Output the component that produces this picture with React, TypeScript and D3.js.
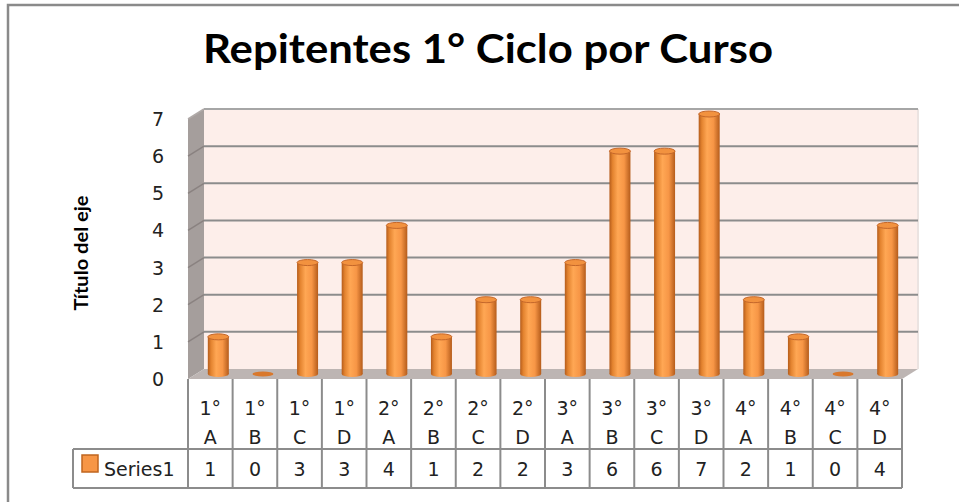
import React from 'react';
import * as d3 from 'd3';

const categories = ['1° A', '1° B', '1° C', '1° D', '2° A', '2° B', '2° C', '2° D', '3° A', '3° B', '3° C', '3° D', '4° A', '4° B', '4° C', '4° D'];
const values = [1, 0, 3, 3, 4, 1, 2, 2, 3, 6, 6, 7, 2, 1, 0, 4];
const yTicks = [0, 1, 2, 3, 4, 5, 6, 7];
const seriesName = 'Series1';
const title = 'Repitentes 1° Ciclo por Curso';
const axisTitle = 'Título del eje';

const width = 959;
const height = 502;

const App = () => {
  // 3d depth offset of the back wall
  const dx = 16;
  const dy = -10;

  const x = d3.scaleBand<string>()
    .domain(categories)
    .range([188, 902])
    .padding(0);

  const y = d3.scaleLinear()
    .domain([0, 7])
    .range([379, 119]);

  const bw = x.bandwidth();
  const rx = 10.5;
  const ry = 3;
  const tableMid = 449;
  const tableBottom = 488;
  const lineColor = '#8c8c8c';
  const font = '"DejaVu Sans", sans-serif';

  return (
    <svg width={width} height={height} style={{ position: 'absolute', left: 0, top: 0 }}>
      <defs>
        <linearGradient id="barGrad" x1="0" x2="1" y1="0" y2="0">
          <stop offset="0%" stopColor="#b55c1b" />
          <stop offset="15%" stopColor="#e3832f" />
          <stop offset="40%" stopColor="#ffa754" />
          <stop offset="70%" stopColor="#f79646" />
          <stop offset="100%" stopColor="#b55c1b" />
        </linearGradient>
      </defs>
      <rect x={0} y={0} width={width} height={height} fill="#fff" />
      {/* chart border */}
      <path d={`M8,${height} L8,5 L${width},5`} fill="none" stroke="#8a8a8a" strokeWidth={2.5} />

      <text x={488} y={63} textAnchor="middle" fontFamily="Lato, sans-serif" fontWeight="bold"
        fontSize={40} textLength={570} lengthAdjust="spacingAndGlyphs" fill="#000">{title}</text>

      {/* walls */}
      <polygon points={`188,${y(7)} ${188 + dx},${y(7) + dy} ${188 + dx},${y(0) + dy} 188,${y(0)}`} fill="#a59e9c" />
      <rect x={188 + dx} y={y(7) + dy} width={902 - 188} height={y(0) - y(7)} fill="#fdeeea" />
      <line x1={902 + dx} x2={902 + dx} y1={y(7) + dy} y2={y(0) + dy} stroke="#ebe3e1" strokeWidth={2} />
      <polygon points={`188,${y(0)} 902,${y(0)} ${902 + dx},${y(0) + dy} ${188 + dx},${y(0) + dy}`} fill="#bdb5b3" />

      {yTicks.filter(t => t > 0).map(t => (
        <g key={t}>
          <line x1={188 + dx} x2={902 + dx} y1={y(t) + dy} y2={y(t) + dy}
            stroke={t === 7 ? '#a6a6a6' : lineColor} strokeWidth={2} />
          <line x1={188} x2={188 + dx} y1={y(t)} y2={y(t) + dy} stroke={t === 7 ? '#b0aaa8' : '#8a8280'} strokeWidth={1.5} />
        </g>
      ))}

      {yTicks.map(t => (
        <text key={t} x={164} y={y(t)} textAnchor="end" dominantBaseline="central"
          fontFamily={font} fontSize={19} fill="#222">{t}</text>
      ))}

      <text transform={`translate(80, 253) rotate(-90)`} textAnchor="middle" dominantBaseline="central"
        fontFamily="Lato, sans-serif" fontWeight="bold" fontSize={19} textLength={115}
        lengthAdjust="spacingAndGlyphs" fill="#000">{axisTitle}</text>

      {/* bars */}
      {categories.map((c, i) => {
        const v = values[i];
        const cx = (x(c) as number) + bw / 2 + dx / 2;
        const base = y(0) + dy / 2;
        const top = y(v) + dy / 2;
        if (v === 0) {
          return <ellipse key={c} cx={cx} cy={base} rx={rx} ry={2.5} fill="#d9782c" />;
        }
        return (
          <g key={c}>
            <ellipse cx={cx} cy={base} rx={rx} ry={ry} fill="url(#barGrad)" />
            <rect x={cx - rx} y={top} width={rx * 2} height={base - top} fill="url(#barGrad)" />
            <ellipse cx={cx} cy={top} rx={rx} ry={ry} fill="#f2923f" stroke="#c4672a" strokeWidth={1} />
          </g>
        );
      })}

      {/* data table */}
      {categories.map(c => (
        <line key={c} x1={x(c)} x2={x(c)} y1={y(0)} y2={tableBottom} stroke={lineColor} strokeWidth={2} />
      ))}
      <line x1={902} x2={902} y1={y(0)} y2={tableBottom} stroke={lineColor} strokeWidth={2} />
      <line x1={73} x2={902} y1={tableMid} y2={tableMid} stroke={lineColor} strokeWidth={2} />
      <line x1={73} x2={902} y1={tableBottom} y2={tableBottom} stroke={lineColor} strokeWidth={2} />
      <line x1={73} x2={73} y1={tableMid} y2={tableBottom} stroke={lineColor} strokeWidth={2} />

      {categories.map((c, i) => {
        const [num, letter] = c.split(' ');
        const cx = (x(c) as number) + bw / 2;
        return (
          <g key={c} fontFamily={font} fontSize={19} fill="#222" textAnchor="middle">
            <text x={cx} y={408} dominantBaseline="central">{num}</text>
            <text x={cx} y={437} dominantBaseline="central">{letter}</text>
            <text x={cx} y={469} dominantBaseline="central">{values[i]}</text>
          </g>
        );
      })}

      <rect x={82} y={455} width={16} height={17} fill="#f79646" stroke="#c0651f" strokeWidth={1.5} />
      <text x={104} y={469} dominantBaseline="central" fontFamily={font} fontSize={19} fill="#222">{seriesName}</text>
    </svg>
  );
};

export default App;
